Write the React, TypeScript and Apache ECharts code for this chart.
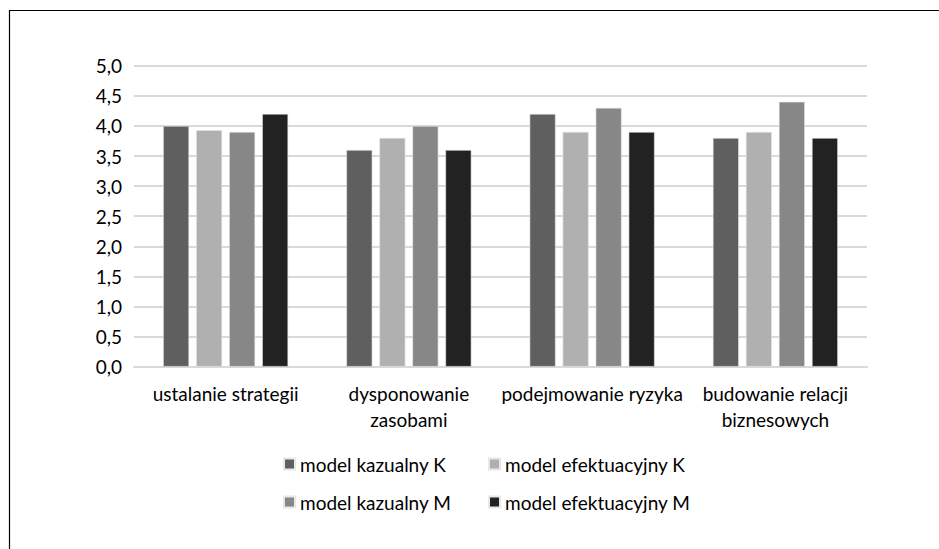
import React, { useEffect, useRef } from "react";
import * as echarts from "echarts";

const categories = [
  "ustalanie strategii",
  "dysponowanie\nzasobami",
  "podejmowanie ryzyka",
  "budowanie relacji\nbiznesowych",
];
const seriesNames = [
  "model kazualny K",
  "model efektuacyjny K",
  "model kazualny M",
  "model efektuacyjny M",
];
const kazualnyK = [4.0, 3.6, 4.2, 3.8];
const efektuacyjnyK = [3.93, 3.8, 3.9, 3.9];
const kazualnyM = [3.9, 4.0, 4.3, 4.4];
const efektuacyjnyM = [4.2, 3.6, 3.9, 3.8];
const colors = ["#5f5f5f", "#b0b0b0", "#878787", "#222222"];

const FONT = "Lato";

export default function App() {
  const ref = useRef<HTMLDivElement>(null);
  useEffect(() => {
    if (!ref.current) return;
    const chart = echarts.init(ref.current, undefined, { renderer: "svg" });
    const values = [kazualnyK, efektuacyjnyK, kazualnyM, efektuacyjnyM];
    chart.setOption({
      animation: false,
      backgroundColor: "#ffffff",
      textStyle: { fontFamily: FONT },
      graphic: [
        {
          type: "rect",
          shape: { x: 9.5, y: 10.5, width: 1000, height: 1000 },
          style: { fill: "none", stroke: "#000000", lineWidth: 1.2 },
          silent: true,
        },
      ],
      grid: { left: 134, right: 72, top: 65.7, bottom: 182.3 },
      legend: {
        left: 283,
        top: 452,
        padding: 0,
        width: 440,
        itemWidth: 11,
        itemHeight: 11,
        itemGap: 14,
        icon: "rect",
        data: seriesNames,
        textStyle: {
          fontFamily: FONT,
          fontSize: 19,
          color: "#000000",
          width: 174,
          lineHeight: 24,
        },
      },
      xAxis: {
        type: "category",
        data: categories,
        axisTick: { show: false },
        axisLine: { lineStyle: { color: "#d9d9d9", width: 2 } },
        axisLabel: {
          fontFamily: FONT,
          fontSize: 19,
          color: "#000000",
          lineHeight: 26,
          margin: 14,
          interval: 0,
        },
      },
      yAxis: {
        type: "value",
        min: 0,
        max: 5,
        interval: 0.5,
        axisLine: { show: false },
        axisTick: { show: false },
        splitLine: { lineStyle: { color: "#d9d9d9", width: 2 } },
        axisLabel: {
          fontFamily: FONT,
          fontSize: 19,
          color: "#000000",
          margin: 12,
          formatter: (v: number) => v.toFixed(1).replace(".", ","),
        },
      },
      series: seriesNames.map((name, i) => ({
        name,
        type: "bar",
        data: values[i],
        barWidth: 26,
        barGap: "27%",
        itemStyle: { color: colors[i], borderColor: "#e8e8e8", borderWidth: 0.6 },
      })),
    });
    return () => chart.dispose();
  }, []);
  return (
    <div
      ref={ref}
      style={{ position: "absolute", left: 0, top: 0, width: 939, height: 549 }}
    />
  );
}
